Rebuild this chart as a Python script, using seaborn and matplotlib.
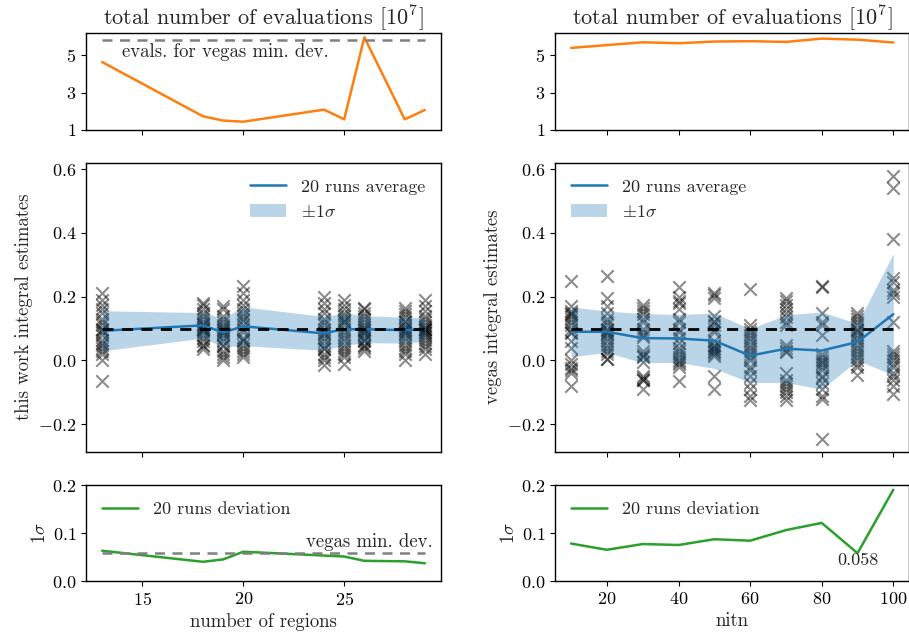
import numpy as np
import pandas as pd
import matplotlib
matplotlib.use("Agg")
import matplotlib.pyplot as plt
import seaborn as sns

# ---------------- data ----------------
regions = [13, 18, 19, 20, 24, 25, 26, 28, 29]
evals_regions = [4.64, 1.72, 1.49, 1.43, 2.08, 1.56, 5.97, 1.56, 2.06]
mean_regions = [0.093, 0.110, 0.088, 0.107, 0.085, 0.098, 0.098, 0.095, 0.097]
sigma_regions = [0.063, 0.040, 0.045, 0.061, 0.053, 0.051, 0.042, 0.041, 0.037]
runs_regions = [
    [0.21, 0.19, 0.175, 0.16, 0.15, 0.13, 0.12, 0.11, 0.10, 0.095, 0.09, 0.08, 0.065, 0.055, 0.05, 0.04, 0.03, 0.02, 0.0, -0.065],
    [0.18, 0.175, 0.16, 0.15, 0.14, 0.13, 0.12, 0.115, 0.11, 0.105, 0.10, 0.10, 0.095, 0.09, 0.08, 0.07, 0.06, 0.05, 0.045, 0.035],
    [0.17, 0.16, 0.14, 0.13, 0.12, 0.11, 0.105, 0.10, 0.095, 0.09, 0.085, 0.08, 0.07, 0.06, 0.05, 0.045, 0.03, 0.02, 0.01, 0.0],
    [0.235, 0.21, 0.19, 0.175, 0.16, 0.15, 0.14, 0.13, 0.125, 0.11, 0.10, 0.09, 0.07, 0.065, 0.06, 0.05, 0.04, 0.03, 0.02, 0.01],
    [0.20, 0.18, 0.16, 0.15, 0.13, 0.12, 0.11, 0.10, 0.09, 0.085, 0.08, 0.07, 0.06, 0.05, 0.04, 0.035, 0.02, 0.01, 0.0, -0.015],
    [0.19, 0.175, 0.16, 0.15, 0.14, 0.13, 0.125, 0.12, 0.11, 0.10, 0.09, 0.08, 0.07, 0.06, 0.05, 0.04, 0.03, 0.02, 0.01, -0.01],
    [0.165, 0.16, 0.15, 0.14, 0.13, 0.12, 0.11, 0.105, 0.10, 0.095, 0.09, 0.085, 0.08, 0.07, 0.065, 0.06, 0.05, 0.045, 0.04, 0.03],
    [0.165, 0.155, 0.145, 0.135, 0.125, 0.12, 0.11, 0.105, 0.10, 0.095, 0.09, 0.085, 0.08, 0.07, 0.06, 0.05, 0.04, 0.03, 0.02, 0.0],
    [0.19, 0.17, 0.155, 0.14, 0.13, 0.12, 0.11, 0.105, 0.10, 0.098, 0.095, 0.09, 0.085, 0.08, 0.075, 0.065, 0.055, 0.045, 0.035, 0.02],
]

nitn = [10, 20, 30, 40, 50, 60, 70, 80, 90, 100]
evals_nitn = [5.40, 5.55, 5.70, 5.65, 5.74, 5.76, 5.72, 5.90, 5.84, 5.69]
mean_nitn = [0.090, 0.090, 0.070, 0.069, 0.062, 0.015, 0.037, 0.031, 0.058, 0.145]
sigma_nitn = [0.078, 0.065, 0.077, 0.075, 0.087, 0.084, 0.106, 0.121, 0.058, 0.190]
runs_nitn = [
    [0.25, 0.17, 0.155, 0.15, 0.145, 0.14, 0.13, 0.12, 0.11, 0.10, 0.09, 0.085, 0.06, 0.04, 0.0, -0.01, -0.025, -0.03, -0.04, -0.08],
    [0.265, 0.195, 0.17, 0.15, 0.13, 0.12, 0.11, 0.10, 0.095, 0.09, 0.085, 0.08, 0.07, 0.06, 0.05, 0.04, 0.03, 0.02, 0.005, 0.005],
    [0.175, 0.165, 0.155, 0.145, 0.13, 0.12, 0.10, 0.09, 0.08, 0.075, 0.03, 0.02, 0.015, 0.01, -0.005, -0.05, -0.055, -0.06, -0.09, -0.06],
    [0.23, 0.20, 0.185, 0.18, 0.16, 0.13, 0.12, 0.10, 0.09, 0.07, 0.055, 0.04, 0.03, 0.02, 0.01, 0.0, -0.005, -0.01, -0.02, -0.065],
    [0.21, 0.205, 0.195, 0.14, 0.125, 0.12, 0.11, 0.10, 0.09, 0.06, 0.05, 0.045, 0.04, 0.035, 0.03, 0.025, 0.02, 0.015, -0.05, -0.09],
    [0.225, 0.11, 0.10, 0.09, 0.08, 0.07, 0.06, 0.05, 0.04, 0.03, 0.02, 0.01, 0.0, -0.02, -0.03, -0.05, -0.07, -0.09, -0.11, -0.125],
    [0.195, 0.185, 0.175, 0.16, 0.15, 0.135, 0.12, 0.11, 0.05, 0.04, 0.03, 0.025, -0.04, -0.06, -0.07, -0.08, -0.09, -0.10, -0.11, -0.125],
    [0.235, 0.23, 0.15, 0.12, 0.11, 0.08, 0.02, 0.01, 0.0, -0.005, -0.01, -0.02, -0.03, -0.05, -0.055, -0.07, -0.09, -0.11, -0.12, -0.245],
    [0.15, 0.14, 0.13, 0.12, 0.11, 0.10, 0.095, 0.09, 0.08, 0.07, 0.06, 0.05, 0.04, 0.03, 0.02, 0.01, 0.0, -0.01, -0.02, -0.045],
    [0.578, 0.54, 0.38, 0.26, 0.245, 0.22, 0.21, 0.20, 0.12, 0.03, 0.02, 0.01, 0.0, -0.01, -0.02, -0.04, -0.05, -0.06, -0.08, -0.105],
]

true_value = 0.1
vegas_min_dev = 0.058
vegas_min_evals = 5.84

# ---------------- style ----------------
sns.set_style("ticks")
FS = 13
plt.rcParams.update({
    "font.family": "serif",
    "font.serif": ["cmr10", "DejaVu Serif"],
    "mathtext.fontset": "cm",
    "axes.formatter.use_mathtext": True,
    "axes.unicode_minus": True,
    "font.size": FS,
    "xtick.labelsize": FS,
    "ytick.labelsize": FS,
    "axes.edgecolor": "black",
    "axes.linewidth": 1.0,
    "xtick.color": "black",
    "ytick.color": "black",
    "xtick.direction": "out",
    "ytick.direction": "out",
    "xtick.major.size": 3.5,
    "ytick.major.size": 3.5,
})

W, H = 909, 637
fig = plt.figure(figsize=(W / 100, H / 100), dpi=100)

def pos(x0, x1, y0, y1):
    return [x0 / W, 1 - y1 / H, (x1 - x0) / W, (y1 - y0) / H]

colL = (86, 441)
colR = (555, 909.4)
rows = [(33, 129.7), (162.7, 451.7), (485, 581)]

axes = [[fig.add_axes(pos(*c, *r)) for c in (colL, colR)] for r in rows]

blue = "#1f77b4"
orange = "#ff7f0e"
green = "#2ca02c"

def draw_column(col, xs, evals, mean, sigma, runs, xlim, xlabel, ylabel_mid, leg_loc):
    ax_t, ax_m, ax_b = axes[0][col], axes[1][col], axes[2][col]
    # top: evaluations
    sns.lineplot(x=xs, y=evals, ax=ax_t, color=orange, linewidth=1.8)
    ax_t.set_ylim(1, 6.2)
    ax_t.set_yticks([1, 3, 5])
    ax_t.set_title(r"total number of evaluations [$10^7$]", fontsize=16, pad=6)
    # middle: scatter of runs
    df = pd.DataFrame({
        "x": np.repeat(xs, [len(r) for r in runs]),
        "v": np.concatenate([np.asarray(r) for r in runs]),
    })
    sns.scatterplot(data=df, x="x", y="v", ax=ax_m, marker="x", color="black",
                    alpha=0.45, s=80, linewidth=1.5, zorder=1)
    m = np.asarray(mean)
    s = np.asarray(sigma)
    band = ax_m.fill_between(xs, m - s, m + s, color=blue, alpha=0.3, linewidth=0,
                             zorder=2)
    sns.lineplot(x=xs, y=mean, ax=ax_m, color=blue, linewidth=1.8, zorder=3)
    line = ax_m.lines[-1]
    ax_m.plot([xs[0], xs[-1]], [true_value, true_value], color="black",
              linestyle="--", linewidth=2, dashes=(4, 3), zorder=4)
    ax_m.set_ylim(-0.286, 0.62)
    ax_m.set_yticks([-0.2, 0.0, 0.2, 0.4, 0.6])
    ax_m.set_ylabel(ylabel_mid, fontsize=13.5)
    ax_m.set_xlabel("")
    ax_m.legend([line, band], ["20 runs average", r"$\pm1\sigma$"],
                loc=leg_loc, frameon=False, fontsize=FS, handlelength=2.0)
    # bottom: deviation
    sns.lineplot(x=xs, y=sigma, ax=ax_b, color=green, linewidth=1.8,
                 label="20 runs deviation")
    ax_b.set_ylim(0, 0.2)
    ax_b.set_yticks([0.0, 0.1, 0.2])
    ax_b.set_ylabel(r"$1\sigma$", fontsize=13.5, labelpad=2)
    ax_b.set_xlabel(xlabel, fontsize=13.5)
    ax_b.legend(loc="upper left", frameon=False, fontsize=FS, handlelength=2.0)
    for ax in (ax_t, ax_m, ax_b):
        ax.set_xlim(*xlim)
        for sp in ax.spines.values():
            sp.set_visible(True)
            sp.set_color("black")
    for ax in (ax_t, ax_m):
        ax.tick_params(labelbottom=False)
    return ax_t, ax_m, ax_b

# left column
tL, mL, bL = draw_column(0, regions, evals_regions, mean_regions, sigma_regions,
                         runs_regions, (12.2, 29.8), "number of regions",
                         "this work integral estimates", "upper right")
tL.plot([regions[0], regions[-1]], [vegas_min_evals, vegas_min_evals],
        color="gray", linestyle="--", linewidth=1.8, dashes=(4, 3))
tL.text(14.0, 5.2, "evals. for vegas min. dev.", fontsize=13.5, va="center", ha="left")
for ax in (tL, mL, bL):
    ax.set_xticks([15, 20, 25])
bL.plot([regions[0], regions[-1]], [vegas_min_dev, vegas_min_dev],
        color="gray", linestyle="--", linewidth=1.8, dashes=(4, 3))
bL.text(29.4, 0.062, "vegas min. dev.", fontsize=13.5, ha="right", va="bottom")

# right column
tR, mR, bR = draw_column(1, nitn, evals_nitn, mean_nitn, sigma_nitn,
                         runs_nitn, (5.5, 104.5), "nitn",
                         "vegas integral estimates", "upper left")
for ax in (tR, mR, bR):
    ax.set_xticks([20, 40, 60, 80, 100])
bR.text(90, 0.058, "0.058", fontsize=FS, ha="center", va="top")

fig.savefig("out.png", dpi=100)
